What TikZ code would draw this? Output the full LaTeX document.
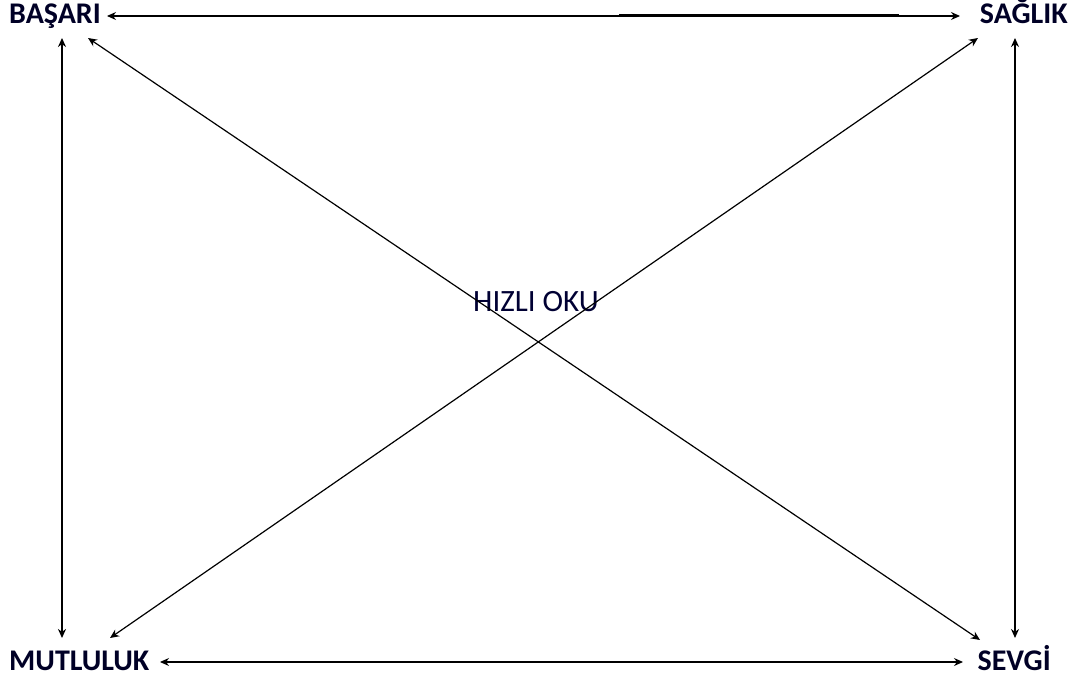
\documentclass[tikz,border=0pt]{standalone}
\usepackage{fontspec}
\setmainfont{Carlito}
\usetikzlibrary{arrows.meta}
\begin{document}
\begin{tikzpicture}[x=1pt,y=1pt,
  lbl/.style={font=\fontsize{30}{34}\selectfont\bfseries, text=black!85!blue, inner sep=0pt},
  conn/.style={{Stealth[length=9pt,width=8pt]}-{Stealth[length=9pt,width=8pt]}, line width=1.2pt},
  thick conn/.style={conn, line width=2pt}]
\useasboundingbox (0,0) rectangle (1077,681);
\node[lbl, anchor=base west] (basari) at (9,657) {BAŞARI};
\node[lbl, anchor=base east] (saglik) at (1068,657) {SAĞLIK};
\node[lbl, anchor=base west] (mutluluk) at (9,11) {MUTLULUK};
\node[lbl, anchor=base east] (sevgi) at (1051,11) {SEVGİ};
\node[font=\fontsize{31}{34}\selectfont, text=black!80!blue, inner sep=0pt, anchor=base] (hizli) at (536,369) {HIZLI OKU};
% top
\draw[conn] ([shift={(98,8)}]basari.base west) -- ([shift={(-108,8)}]saglik.base east);
\draw[line width=2.2pt] ([shift={(-449,9)}]saglik.base east) -- ([shift={(-169,9)}]saglik.base east);
% bottom
\draw[conn] ([shift={(151,8)}]mutluluk.base west) -- ([shift={(-88,8)}]sevgi.base east);
% verticals
\draw[thick conn] ([shift={(53,-14)}]basari.base west) -- ([shift={(53,32)}]mutluluk.base west);
\draw[thick conn] ([shift={(-53,-14)}]saglik.base east) -- ([shift={(-36,32)}]sevgi.base east);
% diagonals
\draw[conn] ([shift={(79,-14)}]basari.base west) -- ([shift={(-71,30)}]sevgi.base east);
\draw[conn] ([shift={(101,32)}]mutluluk.base west) -- ([shift={(-90,-14)}]saglik.base east);
\end{tikzpicture}
\end{document}
